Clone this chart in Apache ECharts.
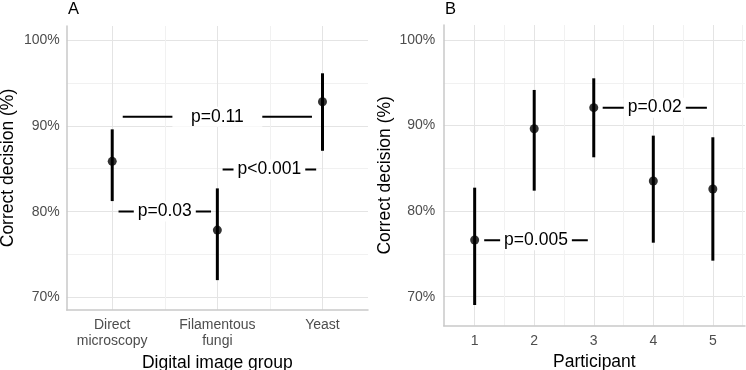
<!DOCTYPE html>
<html>
<head>
<meta charset="utf-8">
<script src="https://cdn.jsdelivr.net/npm/echarts@6/dist/echarts.min.js"></script>
<style>
  html, body { margin: 0; padding: 0; background: #fff; }
  #chart { width: 746px; height: 370px; }
</style>
</head>
<body>
<div id="chart"></div>
<script>
// Panel A: correct decision by digital image group
const groupsA = ['Direct\nmicroscopy', 'Filamentous\nfungi', 'Yeast'];
const meanA = [85.86, 77.85, 92.8];
const lowA = [81.23, 72.02, 87.09];
const highA = [89.59, 82.71, 96.12];

// Panel B: correct decision by participant
const participants = ['1', '2', '3', '4', '5'];
const meanB = [76.63, 89.63, 92.09, 83.52, 82.59];
const lowB = [69.03, 82.39, 86.29, 76.31, 74.21];
const highB = [82.74, 94.16, 95.52, 88.82, 88.63];

// p-value brackets (x from, x to, y)
const pLabelsA = ['   p=0.11   ', 'p<0.001', 'p=0.03'];
const pFromA = [1.1, 2.05, 1.06];
const pToA = [2.9, 2.94, 1.94];
const pYA = [91.06, 84.92, 80.03];

const pLabelsB = ['p=0.005', 'p=0.02'];
const pFromB = [1.16, 3.15];
const pToB = [2.9, 4.9];
const pYB = [76.6, 92.09];

const yTicks = [70, 75, 80, 85, 90, 95, 100];
const yLabels = [70, 80, 90, 100];

const FONT = 'Liberation Sans, Arial, Helvetica, sans-serif';
const chart = echarts.init(document.getElementById('chart'));

function errorBarSeries(idx, lows, highs) {
    return {
        type: 'custom',
        xAxisIndex: idx,
        yAxisIndex: idx,
        data: lows.map((lo, i) => [i + 1, lo, highs[i]]),
        encode: { x: 0, y: [1, 2] },
        renderItem: function (params, api) {
            const x = api.value(0);
            const lo = api.coord([x, api.value(1)]);
            const hi = api.coord([x, api.value(2)]);
            return {
                type: 'line',
                shape: { x1: lo[0], y1: lo[1], x2: hi[0], y2: hi[1] },
                style: { stroke: '#000', lineWidth: 3 }
            };
        },
        z: 3
    };
}

function pointSeries(idx, means) {
    return {
        type: 'scatter',
        xAxisIndex: idx,
        yAxisIndex: idx,
        data: means.map((m, i) => [i + 1, m]),
        symbol: 'circle',
        symbolSize: 9,
        itemStyle: { color: '#000' },
        z: 5
    };
}

function bracketSeries(idx, labels, from, to, ys) {
    return {
        type: 'custom',
        xAxisIndex: idx,
        yAxisIndex: idx,
        data: from.map((f, i) => [f, to[i], ys[i], i]),
        encode: { x: [0, 1], y: 2 },
        renderItem: function (params, api) {
            const a = api.coord([api.value(0), api.value(2)]);
            const b = api.coord([api.value(1), api.value(2)]);
            return {
                type: 'group',
                children: [
                    {
                        type: 'line',
                        shape: { x1: a[0], y1: a[1], x2: b[0], y2: a[1] },
                        style: { stroke: '#000', lineWidth: 2 }
                    },
                    {
                        type: 'text',
                        x: (a[0] + b[0]) / 2,
                        y: a[1],
                        z2: 10,
                        style: {
                            text: labels[api.value(3)],
                            fill: '#000',
                            fontSize: 17.5,
                            fontFamily: FONT,
                            align: 'center',
                            verticalAlign: 'middle',
                            backgroundColor: '#fff',
                            padding: [1, 4]
                        }
                    }
                ]
            };
        },
        z: 4
    };
}

function xAxisFor(idx, names, min, max, title, gap) {
    const ticks = [];
    for (let v = 1; v <= names.length + 0.5 && v < max; v += 0.5) ticks.push(v);
    return {
        type: 'value',
        gridIndex: idx,
        min: min,
        max: max,
        name: title,
        nameLocation: 'middle',
        nameGap: gap,
        nameTextStyle: { fontSize: 17.5, color: '#000', fontFamily: FONT },
        axisLine: { show: true, lineStyle: { color: '#c9c9c9', width: 1.5 } },
        axisTick: { show: false, customValues: ticks },
        axisLabel: {
            customValues: names.map((n, i) => i + 1),
            formatter: v => names[Math.round(v) - 1],
            color: '#4d4d4d',
            fontSize: 14,
            lineHeight: 16,
            margin: 7,
            fontFamily: FONT
        },
        splitLine: { show: true, lineStyle: { color: ['#e4e4e4', '#f1f1f1'], width: 1 } }
    };
}

function yAxisFor(idx, min, max, gap, margin) {
    return {
        type: 'value',
        gridIndex: idx,
        min: min,
        max: max,
        name: 'Correct decision (%)',
        nameLocation: 'middle',
        nameGap: gap,
        nameTextStyle: { fontSize: 17.5, color: '#000', fontFamily: FONT },
        axisLine: { show: true, lineStyle: { color: '#c9c9c9', width: 1.5 } },
        axisTick: { show: false, customValues: yTicks },
        axisLabel: {
            customValues: yLabels,
            formatter: v => v + '%',
            color: '#4d4d4d',
            fontSize: 14,
            margin: margin,
            fontFamily: FONT
        },
        splitLine: { show: true, lineStyle: { color: ['#e4e4e4', '#f1f1f1'], width: 1 } }
    };
}

chart.setOption({
    animation: false,
    backgroundColor: '#fff',
    textStyle: { fontFamily: FONT },
    grid: [
        { left: 66.7, right: 378, top: 26, bottom: 60, containLabel: false, outerBoundsMode: 'none' },
        { left: 443.7, right: 1, top: 25, bottom: 44.3, containLabel: false, outerBoundsMode: 'none' }
    ],
    xAxis: [
        xAxisFor(0, groupsA, 0.567, 3.433, 'Digital image group', 36),
        xAxisFor(1, participants, 0.48, 5.54, 'Participant', 21.5)
    ],
    yAxis: [
        yAxisFor(0, 68.54, 101.63, 50, 7),
        yAxisFor(1, 66.61, 101.75, 50, 8.5)
    ],
    graphic: [
        { type: 'text', x: 68, y: 9.5, style: { text: 'A', fontSize: 16.5, fontFamily: FONT, fill: '#000', verticalAlign: 'middle' } },
        { type: 'text', x: 445, y: 9.5, style: { text: 'B', fontSize: 16.5, fontFamily: FONT, fill: '#000', verticalAlign: 'middle' } }
    ],
    series: [
        errorBarSeries(0, lowA, highA),
        pointSeries(0, meanA),
        bracketSeries(0, pLabelsA, pFromA, pToA, pYA),
        errorBarSeries(1, lowB, highB),
        pointSeries(1, meanB),
        bracketSeries(1, pLabelsB, pFromB, pToB, pYB)
    ]
});
</script>
</body>
</html>
